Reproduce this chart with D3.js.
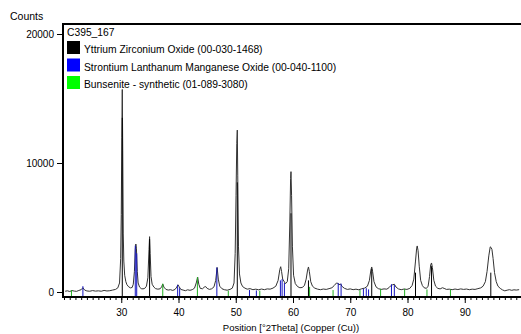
<!DOCTYPE html>
<html>
<head>
<meta charset="utf-8">
<script src="https://cdn.jsdelivr.net/npm/d3@7"></script>
<style>
	body { margin: 0; background: #fff; }
	svg { display: block; font-family: "Liberation Sans", Arial, sans-serif; }
</style>
</head>
<body>
<svg width="521" height="334"></svg>
<script>
var profile = [
	[20.2,60],[20.6,90],[21.0,40],[21.4,110],[21.8,70],[22.2,50],[22.6,120],[23.0,180],[23.3,330],[23.6,150],
	[24.0,80],[24.5,60],[25.0,110],[25.5,70],[26.0,90],[26.5,60],[27.0,120],[27.5,80],[28.0,100],[28.5,150],
	[29.0,200],[29.4,320],[29.7,700],[29.9,2600],[30.0,6000],[30.1,12000],[30.18,15700],[30.26,11000],[30.35,4500],[30.45,2400],
	[30.6,1300],[30.8,800],[31.0,560],[31.3,400],[31.6,320],[31.9,350],[32.1,600],[32.3,1600],[32.45,3300],[32.55,3720],
	[32.65,3400],[32.8,1600],[32.95,700],[33.2,380],[33.5,260],[33.8,240],[34.1,280],[34.4,450],[34.65,1100],[34.85,3300],
	[34.95,4290],[35.05,3000],[35.2,1200],[35.4,600],[35.7,380],[36.0,260],[36.4,220],[36.8,250],[37.05,400],[37.25,620],
	[37.45,380],[37.8,200],[38.2,150],[38.6,180],[39.0,120],[39.4,200],[39.7,380],[39.9,560],[40.1,420],[40.4,200],
	[40.8,150],[41.2,100],[41.6,170],[42.0,130],[42.4,180],[42.8,300],[43.1,700],[43.35,1150],[43.55,600],[43.8,280],
	[44.2,250],[44.5,380],[44.75,420],[45.0,280],[45.4,200],[45.8,250],[46.2,400],[46.5,900],[46.75,1900],[46.95,1000],
	[47.2,450],[47.6,250],[48.0,180],[48.5,140],[49.0,200],[49.4,300],[49.7,700],[49.9,3000],[50.05,7500],[50.18,11500],
	[50.27,12550],[50.35,9000],[50.48,3500],[50.65,1400],[50.9,700],[51.2,420],[51.6,300],[52.0,220],[52.5,260],[53.0,180],
	[53.5,220],[54.0,170],[54.5,230],[55.0,180],[55.5,240],[56.0,220],[56.5,300],[57.0,450],[57.4,900],[57.7,1750],
	[57.85,1960],[58.0,1600],[58.2,1000],[58.4,850],[58.7,650],[59.0,800],[59.25,1800],[59.45,5500],[59.58,8800],[59.65,9330],
	[59.75,7500],[59.9,3500],[60.1,1300],[60.4,650],[60.8,420],[61.2,330],[61.6,350],[62.0,500],[62.3,1000],[62.55,1700],
	[62.7,1940],[62.85,1600],[63.1,800],[63.4,450],[63.8,300],[64.3,220],[64.8,180],[65.3,230],[65.8,200],[66.3,260],
	[66.8,330],[67.2,500],[67.6,700],[67.8,680],[68.0,560],[68.3,620],[68.6,420],[69.0,280],[69.5,200],[70.0,240],
	[70.5,180],[71.0,220],[71.5,170],[72.0,250],[72.5,300],[73.0,450],[73.35,900],[73.6,1700],[73.75,1940],[73.9,1600],
	[74.15,800],[74.5,400],[74.9,260],[75.4,200],[75.9,240],[76.4,220],[76.8,350],[77.1,500],[77.4,560],[77.7,600],
	[78.0,380],[78.4,240],[78.9,180],[79.4,230],[79.9,200],[80.4,280],[80.8,500],[81.1,1000],[81.4,2400],[81.6,3400],
	[81.7,3570],[81.85,3200],[82.05,2000],[82.3,900],[82.6,500],[82.9,330],[83.3,280],[83.6,450],[83.85,1200],[84.05,2100],
	[84.2,2250],[84.35,1900],[84.6,900],[84.9,450],[85.3,280],[85.7,240],[86.1,330],[86.4,280],[86.8,200],[87.3,220],
	[87.8,180],[88.3,230],[88.8,190],[89.3,240],[89.8,200],[90.3,230],[90.8,180],[91.3,220],[91.8,200],[92.3,260],
	[92.8,320],[93.2,450],[93.6,800],[93.9,1600],[94.2,2800],[94.45,3500],[94.6,3450],[94.75,3300],[94.95,2600],[95.2,1500],
	[95.5,800],[95.8,450],[96.2,280],[96.6,160],[97.0,90],[97.4,140],[97.8,180],[98.2,130],[98.6,170],[99.0,150],[99.5,180]
];

// reference patterns, [2theta, stick height]
var yzoSticks = [[30.18,13500],[34.95,4100],[50.27,8500],[59.65,6100],[62.7,900],[73.75,1800],[81.4,1500],[84.2,2000],[94.55,1500]];
var slmoSticks = [[23.3,450],[32.45,3600],[32.7,3000],[39.85,550],[40.2,300],[46.7,1900],[52.4,150],[53.6,120],
	[57.8,900],[58.1,1000],[58.5,700],[67.9,700],[68.4,650],[72.3,250],[72.8,300],[73.2,200],[77.2,600],[77.7,550]];
var nioSticks = [[21.3,150],[37.25,650],[43.3,1150],[48.7,100],[54.2,100],[62.9,400],[67.0,150],[71.7,150],
	[75.3,250],[79.5,250],[83.4,200],[87.5,200]];

var legendNames = ["Yttrium Zirconium Oxide (00-030-1468)", "Strontium Lanthanum Manganese Oxide (00-040-1100)", "Bunsenite - synthetic (01-089-3080)"];
var legendColors = ["#000000", "#0000ff", "#00ff00"];
var stickColors = ["#000000", "#1414c0", "#22b022"];
var sampleName = "C395_167";
var yTicks = [0, 10000, 20000];
var xTicks = [30, 40, 50, 60, 70, 80, 90];

window.onload = function(){
	var svg = d3.select("svg");
	var top = 24, bottom = 297, left = 63, right = 521;

	//scale
	var x = d3.scaleLinear().domain([20, 100]).range([64, 522]);
	var y = d3.scaleLinear().domain([0, 20000]).range([292, 34]);

	//pattern
	var line = d3.line()
		.x(function(d){ return x(d[0]); })
		.y(function(d){ return y(d[1]); });
	svg.append("path")
		.datum(profile)
		.attr("fill", "none")
		.attr("stroke", "#333")
		.attr("stroke-width", 1)
		.attr("d", line);

	//sticks
	[yzoSticks, slmoSticks, nioSticks].forEach(function(set, i){
		svg.append("g")
			.selectAll("line")
			.data(set)
			.enter().append("line")
				.attr("x1", function(d){ return x(d[0]); })
				.attr("x2", function(d){ return x(d[0]); })
				.attr("y1", bottom)
				.attr("y2", function(d){ return y(d[1]); })
				.attr("stroke", stickColors[i])
				.attr("stroke-width", 1);
	});

	//axes
	var xMinor = svg.append("g")
		.attr("transform", "translate(0," + bottom + ")")
		.call(d3.axisBottom(x).ticks(80).tickSize(3).tickSizeOuter(0).tickFormat(""));
	xMinor.select(".domain").remove();
	var xAxis = svg.append("g")
		.attr("transform", "translate(0," + bottom + ")")
		.call(d3.axisBottom(x).tickValues(xTicks).tickSize(6).tickSizeOuter(0).tickPadding(6));
	xAxis.select(".domain").remove();
	xAxis.selectAll("text").attr("font-size", 10).attr("font-family", null).attr("fill", "#000");

	var yAxis = svg.append("g")
		.attr("transform", "translate(" + left + ",0)")
		.call(d3.axisLeft(y).tickValues(yTicks).tickSize(6).tickSizeOuter(0).tickPadding(3).tickFormat(d3.format("d")));
	yAxis.select(".domain").remove();
	yAxis.selectAll("text").attr("font-size", 10).attr("font-family", null).attr("fill", "#000");

	//frame
	svg.append("line").attr("x1", left).attr("x2", right).attr("y1", top).attr("y2", top)
		.attr("stroke", "#000").attr("stroke-width", 2);
	svg.append("line").attr("x1", left).attr("x2", left).attr("y1", top - 1).attr("y2", bottom + 1)
		.attr("stroke", "#000").attr("stroke-width", 2);
	svg.append("line").attr("x1", left).attr("x2", right).attr("y1", bottom).attr("y2", bottom)
		.attr("stroke", "#000").attr("stroke-width", 2);

	//labels
	svg.append("text").attr("x", 10).attr("y", 20).attr("font-size", 10.5).text("Counts");
	svg.append("text").attr("x", 291).attr("y", 331).attr("font-size", 9.5)
		.attr("text-anchor", "middle").text("Position [\u00b02Theta] (Copper (Cu))");

	//legend
	svg.append("text").attr("x", 67).attr("y", 36).attr("font-size", 10.3).text(sampleName);
	var leg = svg.append("g").selectAll("g")
		.data(legendNames)
		.enter().append("g")
			.attr("transform", function(d, i){ return "translate(67," + (41 + i * 17.5) + ")"; });
	leg.append("rect")
		.attr("width", 13).attr("height", 13)
		.attr("fill", function(d, i){ return legendColors[i]; });
	leg.append("text")
		.attr("x", 17).attr("y", 12)
		.attr("font-size", 10.3)
		.text(function(d){ return d; });
};
</script>
</body>
</html>
